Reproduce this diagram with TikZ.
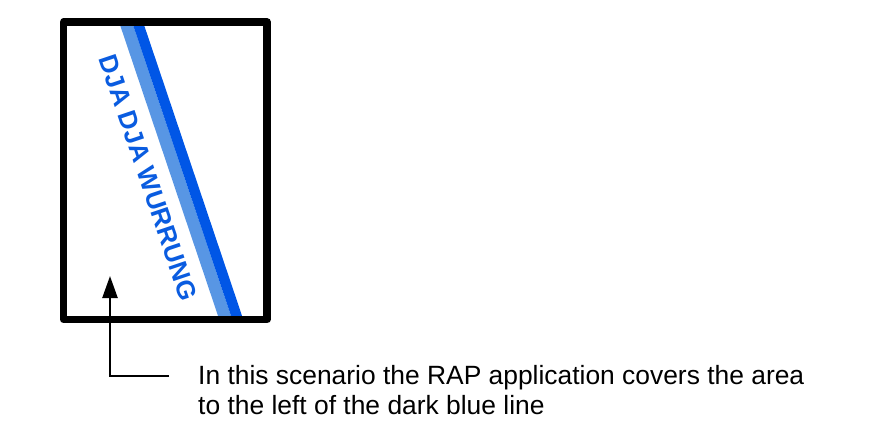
\documentclass[tikz,border=0pt]{standalone}
\usepackage{fontspec}
\setmainfont{Liberation Sans}
\usetikzlibrary{arrows.meta}
\definecolor{darkblu}{RGB}{0,86,230}
\definecolor{lightblu}{RGB}{88,150,228}
\definecolor{txtblu}{RGB}{10,92,224}
\tikzset{
  frame/.style={draw=black,line width=7.5pt,line join=round},
  pointer/.style={draw=black,line width=2.4pt,-{Triangle[width=15pt,length=22pt]}},
  caption/.style={font=\fontsize{26.4}{29.5}\selectfont,inner sep=0pt,anchor=base west},
  regionlabel/.style={font=\bfseries\fontsize{26}{30}\selectfont,text=txtblu,inner sep=0pt,anchor=base west,rotate=-71.4}
}
\begin{document}
\begin{tikzpicture}[x=1pt,y=-1pt]
\useasboundingbox (0,0) rectangle (883,428);
% blue lines, clipped to the box
\begin{scope}
\clip (63.7,22) rectangle (267,319.5);
\fill[lightblu] (117.7,18) -- (130.7,18) -- (233.1,322) -- (220.1,322) -- cycle;
\fill[darkblu] (130.7,18) -- (141.7,18) -- (244.1,322) -- (233.1,322) -- cycle;
\end{scope}
\node[regionlabel] (region) at (98.5,58.5) {DJA DJA WURRUNG};
\draw[frame] (63.7,22) rectangle (267,319.5);
% caption and pointer
\node[caption] (cap1) at (198,384.3) {In this scenario the RAP application covers the area};
\node[caption] (cap2) at (198,414) {to the left of the dark blue line};
\coordinate (tip) at (110,276);
\coordinate (elbowend) at (169,375.7);
\draw[pointer] (elbowend) -| (tip);
\end{tikzpicture}
\end{document}
